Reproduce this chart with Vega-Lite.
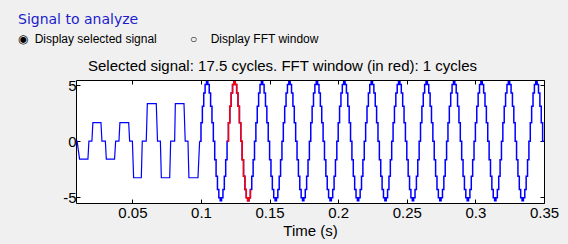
{
  "$schema": "https://vega.github.io/schema/vega-lite/v6.json",
  "width": 468,
  "height": 123,
  "autosize": "none",
  "padding": {"left": 76, "top": 80, "right": 24, "bottom": 41},
  "background": "#f0f0f0",
  "config": {
    "view": {"stroke": "black", "strokeWidth": 1, "fill": "white"},
    "axis": {
      "domain": false,
      "grid": false,
      "tickColor": "black",
      "tickSize": -4,
      "labelColor": "black",
      "labelFont": "Liberation Sans",
      "labelFontSize": 15,
      "titleFont": "Liberation Sans",
      "titleFontSize": 15,
      "titleFontWeight": "normal",
      "titleColor": "black",
      "labelOverlap": false
    }
  },
  "title": {
    "text": "Signal to analyze",
    "subtitle": "◉\u00a0\u00a0Display selected signal\u00a0\u00a0\u00a0\u00a0\u00a0\u00a0\u00a0\u00a0\u00a0\u00a0○\u00a0\u00a0\u00a0\u00a0Display FFT window",
    "anchor": "start",
    "frame": "group",
    "dx": -58,
    "font": "DejaVu Sans",
    "fontSize": 14,
    "fontWeight": "normal",
    "color": "#1c1ccc",
    "subtitleFont": "Liberation Sans",
    "subtitleFontSize": 12,
    "subtitleColor": "black",
    "subtitlePadding": 7,
    "offset": 13
  },
  "datasets": {
    "multilevel": [
      {"t": 0.0089, "v": 0}, {"t": 0.0097, "v": 0}, {"t": 0.0115, "v": -1.6}, {"t": 0.0176, "v": -1.6},
      {"t": 0.0183, "v": 0}, {"t": 0.0205, "v": 0}, {"t": 0.0212, "v": 1.65}, {"t": 0.0271, "v": 1.65},
      {"t": 0.0278, "v": 0}, {"t": 0.0303, "v": 0}, {"t": 0.031, "v": -1.6}, {"t": 0.037, "v": -1.6},
      {"t": 0.0378, "v": 0}, {"t": 0.0402, "v": 0}, {"t": 0.0409, "v": 1.65}, {"t": 0.0473, "v": 1.65},
      {"t": 0.048, "v": 0}, {"t": 0.05, "v": 0}, {"t": 0.0509, "v": -3.25}, {"t": 0.0565, "v": -3.25},
      {"t": 0.0572, "v": 0}, {"t": 0.0601, "v": 0}, {"t": 0.0609, "v": 3.35}, {"t": 0.0674, "v": 3.35},
      {"t": 0.0683, "v": 0}, {"t": 0.0704, "v": 0}, {"t": 0.0711, "v": -3.25}, {"t": 0.0772, "v": -3.25},
      {"t": 0.0779, "v": 0}, {"t": 0.0808, "v": 0}, {"t": 0.0813, "v": 3.35}, {"t": 0.0876, "v": 3.35},
      {"t": 0.0885, "v": 0}, {"t": 0.0905, "v": 0}, {"t": 0.0912, "v": -3.25}, {"t": 0.0978, "v": -3.25},
      {"t": 0.099, "v": 0}
    ],
    "sine": [
      {"t": 0.099, "v": 0}, {"t": 0.100, "v": 1.64}, {"t": 0.101, "v": 3.12}, {"t": 0.102, "v": 4.29}, {"t": 0.103, "v": 5.04},
      {"t": 0.104, "v": 5.3}, {"t": 0.105, "v": 5.04}, {"t": 0.106, "v": 4.29}, {"t": 0.107, "v": 3.12}, {"t": 0.108, "v": 1.64},
      {"t": 0.109, "v": 0}, {"t": 0.110, "v": -1.64}, {"t": 0.111, "v": -3.12}, {"t": 0.112, "v": -4.29}, {"t": 0.113, "v": -5.04},
      {"t": 0.114, "v": -5.3}, {"t": 0.115, "v": -5.04}, {"t": 0.116, "v": -4.29}, {"t": 0.117, "v": -3.12}, {"t": 0.118, "v": -1.64},
      {"t": 0.119, "v": 0}, {"t": 0.120, "v": 1.64}, {"t": 0.121, "v": 3.12}, {"t": 0.122, "v": 4.29}, {"t": 0.123, "v": 5.04},
      {"t": 0.124, "v": 5.3}, {"t": 0.125, "v": 5.04}, {"t": 0.126, "v": 4.29}, {"t": 0.127, "v": 3.12}, {"t": 0.128, "v": 1.64},
      {"t": 0.129, "v": 0}, {"t": 0.130, "v": -1.64}, {"t": 0.131, "v": -3.12}, {"t": 0.132, "v": -4.29}, {"t": 0.133, "v": -5.04},
      {"t": 0.134, "v": -5.3}, {"t": 0.135, "v": -5.04}, {"t": 0.136, "v": -4.29}, {"t": 0.137, "v": -3.12}, {"t": 0.138, "v": -1.64},
      {"t": 0.139, "v": 0}, {"t": 0.140, "v": 1.64}, {"t": 0.141, "v": 3.12}, {"t": 0.142, "v": 4.29}, {"t": 0.143, "v": 5.04},
      {"t": 0.144, "v": 5.3}, {"t": 0.145, "v": 5.04}, {"t": 0.146, "v": 4.29}, {"t": 0.147, "v": 3.12}, {"t": 0.148, "v": 1.64},
      {"t": 0.149, "v": 0}, {"t": 0.150, "v": -1.64}, {"t": 0.151, "v": -3.12}, {"t": 0.152, "v": -4.29}, {"t": 0.153, "v": -5.04},
      {"t": 0.154, "v": -5.3}, {"t": 0.155, "v": -5.04}, {"t": 0.156, "v": -4.29}, {"t": 0.157, "v": -3.12}, {"t": 0.158, "v": -1.64},
      {"t": 0.159, "v": 0}, {"t": 0.160, "v": 1.64}, {"t": 0.161, "v": 3.12}, {"t": 0.162, "v": 4.29}, {"t": 0.163, "v": 5.04},
      {"t": 0.164, "v": 5.3}, {"t": 0.165, "v": 5.04}, {"t": 0.166, "v": 4.29}, {"t": 0.167, "v": 3.12}, {"t": 0.168, "v": 1.64},
      {"t": 0.169, "v": 0}, {"t": 0.170, "v": -1.64}, {"t": 0.171, "v": -3.12}, {"t": 0.172, "v": -4.29}, {"t": 0.173, "v": -5.04},
      {"t": 0.174, "v": -5.3}, {"t": 0.175, "v": -5.04}, {"t": 0.176, "v": -4.29}, {"t": 0.177, "v": -3.12}, {"t": 0.178, "v": -1.64},
      {"t": 0.179, "v": 0}, {"t": 0.180, "v": 1.64}, {"t": 0.181, "v": 3.12}, {"t": 0.182, "v": 4.29}, {"t": 0.183, "v": 5.04},
      {"t": 0.184, "v": 5.3}, {"t": 0.185, "v": 5.04}, {"t": 0.186, "v": 4.29}, {"t": 0.187, "v": 3.12}, {"t": 0.188, "v": 1.64},
      {"t": 0.189, "v": 0}, {"t": 0.190, "v": -1.64}, {"t": 0.191, "v": -3.12}, {"t": 0.192, "v": -4.29}, {"t": 0.193, "v": -5.04},
      {"t": 0.194, "v": -5.3}, {"t": 0.195, "v": -5.04}, {"t": 0.196, "v": -4.29}, {"t": 0.197, "v": -3.12}, {"t": 0.198, "v": -1.64},
      {"t": 0.199, "v": 0}, {"t": 0.200, "v": 1.64}, {"t": 0.201, "v": 3.12}, {"t": 0.202, "v": 4.29}, {"t": 0.203, "v": 5.04},
      {"t": 0.204, "v": 5.3}, {"t": 0.205, "v": 5.04}, {"t": 0.206, "v": 4.29}, {"t": 0.207, "v": 3.12}, {"t": 0.208, "v": 1.64},
      {"t": 0.209, "v": 0}, {"t": 0.210, "v": -1.64}, {"t": 0.211, "v": -3.12}, {"t": 0.212, "v": -4.29}, {"t": 0.213, "v": -5.04},
      {"t": 0.214, "v": -5.3}, {"t": 0.215, "v": -5.04}, {"t": 0.216, "v": -4.29}, {"t": 0.217, "v": -3.12}, {"t": 0.218, "v": -1.64},
      {"t": 0.219, "v": 0}, {"t": 0.220, "v": 1.64}, {"t": 0.221, "v": 3.12}, {"t": 0.222, "v": 4.29}, {"t": 0.223, "v": 5.04},
      {"t": 0.224, "v": 5.3}, {"t": 0.225, "v": 5.04}, {"t": 0.226, "v": 4.29}, {"t": 0.227, "v": 3.12}, {"t": 0.228, "v": 1.64},
      {"t": 0.229, "v": 0}, {"t": 0.230, "v": -1.64}, {"t": 0.231, "v": -3.12}, {"t": 0.232, "v": -4.29}, {"t": 0.233, "v": -5.04},
      {"t": 0.234, "v": -5.3}, {"t": 0.235, "v": -5.04}, {"t": 0.236, "v": -4.29}, {"t": 0.237, "v": -3.12}, {"t": 0.238, "v": -1.64},
      {"t": 0.239, "v": 0}, {"t": 0.240, "v": 1.64}, {"t": 0.241, "v": 3.12}, {"t": 0.242, "v": 4.29}, {"t": 0.243, "v": 5.04},
      {"t": 0.244, "v": 5.3}, {"t": 0.245, "v": 5.04}, {"t": 0.246, "v": 4.29}, {"t": 0.247, "v": 3.12}, {"t": 0.248, "v": 1.64},
      {"t": 0.249, "v": 0}, {"t": 0.250, "v": -1.64}, {"t": 0.251, "v": -3.12}, {"t": 0.252, "v": -4.29}, {"t": 0.253, "v": -5.04},
      {"t": 0.254, "v": -5.3}, {"t": 0.255, "v": -5.04}, {"t": 0.256, "v": -4.29}, {"t": 0.257, "v": -3.12}, {"t": 0.258, "v": -1.64},
      {"t": 0.259, "v": 0}, {"t": 0.260, "v": 1.64}, {"t": 0.261, "v": 3.12}, {"t": 0.262, "v": 4.29}, {"t": 0.263, "v": 5.04},
      {"t": 0.264, "v": 5.3}, {"t": 0.265, "v": 5.04}, {"t": 0.266, "v": 4.29}, {"t": 0.267, "v": 3.12}, {"t": 0.268, "v": 1.64},
      {"t": 0.269, "v": 0}, {"t": 0.270, "v": -1.64}, {"t": 0.271, "v": -3.12}, {"t": 0.272, "v": -4.29}, {"t": 0.273, "v": -5.04},
      {"t": 0.274, "v": -5.3}, {"t": 0.275, "v": -5.04}, {"t": 0.276, "v": -4.29}, {"t": 0.277, "v": -3.12}, {"t": 0.278, "v": -1.64},
      {"t": 0.279, "v": 0}, {"t": 0.280, "v": 1.64}, {"t": 0.281, "v": 3.12}, {"t": 0.282, "v": 4.29}, {"t": 0.283, "v": 5.04},
      {"t": 0.284, "v": 5.3}, {"t": 0.285, "v": 5.04}, {"t": 0.286, "v": 4.29}, {"t": 0.287, "v": 3.12}, {"t": 0.288, "v": 1.64},
      {"t": 0.289, "v": 0}, {"t": 0.290, "v": -1.64}, {"t": 0.291, "v": -3.12}, {"t": 0.292, "v": -4.29}, {"t": 0.293, "v": -5.04},
      {"t": 0.294, "v": -5.3}, {"t": 0.295, "v": -5.04}, {"t": 0.296, "v": -4.29}, {"t": 0.297, "v": -3.12}, {"t": 0.298, "v": -1.64},
      {"t": 0.299, "v": 0}, {"t": 0.300, "v": 1.64}, {"t": 0.301, "v": 3.12}, {"t": 0.302, "v": 4.29}, {"t": 0.303, "v": 5.04},
      {"t": 0.304, "v": 5.3}, {"t": 0.305, "v": 5.04}, {"t": 0.306, "v": 4.29}, {"t": 0.307, "v": 3.12}, {"t": 0.308, "v": 1.64},
      {"t": 0.309, "v": 0}, {"t": 0.310, "v": -1.64}, {"t": 0.311, "v": -3.12}, {"t": 0.312, "v": -4.29}, {"t": 0.313, "v": -5.04},
      {"t": 0.314, "v": -5.3}, {"t": 0.315, "v": -5.04}, {"t": 0.316, "v": -4.29}, {"t": 0.317, "v": -3.12}, {"t": 0.318, "v": -1.64},
      {"t": 0.319, "v": 0}, {"t": 0.320, "v": 1.64}, {"t": 0.321, "v": 3.12}, {"t": 0.322, "v": 4.29}, {"t": 0.323, "v": 5.04},
      {"t": 0.324, "v": 5.3}, {"t": 0.325, "v": 5.04}, {"t": 0.326, "v": 4.29}, {"t": 0.327, "v": 3.12}, {"t": 0.328, "v": 1.64},
      {"t": 0.329, "v": 0}, {"t": 0.330, "v": -1.64}, {"t": 0.331, "v": -3.12}, {"t": 0.332, "v": -4.29}, {"t": 0.333, "v": -5.04},
      {"t": 0.334, "v": -5.3}, {"t": 0.335, "v": -5.04}, {"t": 0.336, "v": -4.29}, {"t": 0.337, "v": -3.12}, {"t": 0.338, "v": -1.64},
      {"t": 0.339, "v": 0}, {"t": 0.340, "v": 1.64}, {"t": 0.341, "v": 3.12}, {"t": 0.342, "v": 4.29}, {"t": 0.343, "v": 5.04},
      {"t": 0.344, "v": 5.3}, {"t": 0.345, "v": 5.04}, {"t": 0.346, "v": 4.29}, {"t": 0.347, "v": 3.12}, {"t": 0.348, "v": 1.64},
      {"t": 0.349, "v": 0}, {"t": 0.350, "v": 0}
    ]
  },
  "layer": [
    {
      "data": {"name": "multilevel"},
      "mark": {"type": "line", "color": "#0000ff", "strokeWidth": 1.2, "clip": true},
      "encoding": {
        "x": {
          "field": "t", "type": "quantitative",
          "scale": {"domain": [0.0089, 0.35], "nice": false, "zero": false},
          "axis": {"orient": "bottom", "values": [0.05, 0.1, 0.15, 0.2, 0.25, 0.3, 0.35], "format": "~g", "title": "Time (s)", "labelPadding": 6, "titlePadding": 3, "labelFlush": false}
        },
        "y": {
          "field": "v", "type": "quantitative",
          "scale": {"domain": [-5.5, 5.45], "nice": false, "zero": false},
          "axis": {"orient": "left", "values": [-5, 0, 5], "labelExpr": "datum.value < 0 ? '-' + abs(datum.value) : '' + datum.value", "title": null, "labelPadding": 4}
        }
      }
    },
    {
      "data": {"name": "sine"},
      "mark": {"type": "line", "color": "#0000ff", "strokeWidth": 1.5, "interpolate": "step-after", "clip": true},
      "encoding": {
        "x": {"field": "t", "type": "quantitative", "scale": {"domain": [0.0089, 0.35], "nice": false, "zero": false}, "axis": null},
        "y": {"field": "v", "type": "quantitative", "scale": {"domain": [-5.5, 5.45], "nice": false, "zero": false}, "axis": null}
      }
    },
    {
      "data": {"name": "sine"},
      "transform": [{"filter": "datum.t >= 0.119 && datum.t <= 0.136"}],
      "mark": {"type": "line", "color": "#ff0000", "strokeWidth": 1.5, "interpolate": "step-after", "clip": true},
      "encoding": {
        "x": {
          "field": "t", "type": "quantitative",
          "scale": {"domain": [0.0089, 0.35], "nice": false, "zero": false},
          "axis": {"orient": "top", "values": [0.05, 0.1, 0.15, 0.2, 0.25, 0.3, 0.35], "labels": false, "title": "Selected signal: 17.5 cycles. FFT window (in red): 1 cycles", "titleX": 206, "titleY": -10, "titleBaseline": "alphabetic"}
        },
        "y": {
          "field": "v", "type": "quantitative",
          "scale": {"domain": [-5.5, 5.45], "nice": false, "zero": false},
          "axis": {"orient": "right", "values": [-5, 0, 5], "labels": false, "title": null}
        }
      }
    }
  ],
  "resolve": {"axis": {"x": "independent", "y": "independent"}}
}
